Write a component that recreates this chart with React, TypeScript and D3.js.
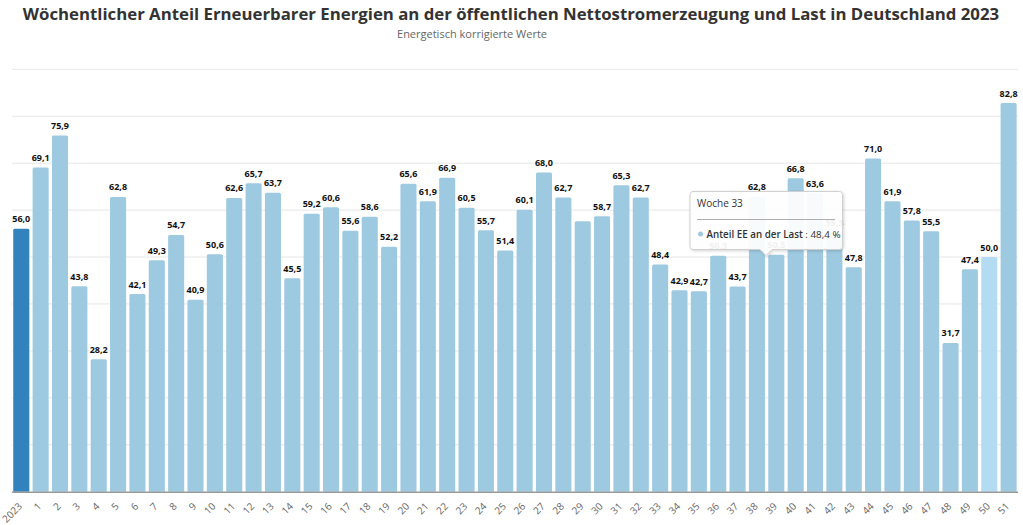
import React from "react";
import * as d3 from "d3";

const categories: string[] = [
  "2023", "1", "2", "3", "4", "5", "6", "7", "8", "9", "10", "11", "12", "13", "14", "15", "16", "17",
  "18", "19", "20", "21", "22", "23", "24", "25", "26", "27", "28", "29", "30", "31", "32", "33", "34",
  "35", "36", "37", "38", "39", "40", "41", "42", "43", "44", "45", "46", "47", "48", "49", "50", "51",
];

const shareEE: number[] = [
  56.0, 69.1, 75.9, 43.8, 28.2, 62.8, 42.1, 49.3, 54.7, 40.9, 50.6, 62.6, 65.7, 63.7, 45.5, 59.2, 60.6, 55.6,
  58.6, 52.2, 65.6, 61.9, 66.9, 60.5, 55.7, 51.4, 60.1, 68.0, 62.7, 57.6, 58.7, 65.3, 62.7, 48.4, 42.9,
  42.7, 50.3, 43.7, 62.8, 50.5, 66.8, 63.6, 55.3, 47.8, 71.0, 61.9, 57.8, 55.5, 31.7, 47.4, 50.0, 82.8,
];

const hiddenLabels: string[] = ["29"];
const highlighted: string = "50";
const yTicks: number[] = [0, 10, 20, 30, 40, 50, 60, 70, 80, 90];

const title =
  "Wöchentlicher Anteil Erneuerbarer Energien an der öffentlichen Nettostromerzeugung und Last in Deutschland 2023";
const subtitle = "Energetisch korrigierte Werte";
const seriesName = "Anteil EE an der Last";
const tooltipWeek = "33";

const W = 1023;
const H = 525;
const FONT = "'Open Sans', 'DejaVu Sans', sans-serif";
const fmt = (v: number) => d3.format(".1f")(v).replace(".", ",");

export default function App() {
  const x = d3
    .scaleBand<string>()
    .domain(categories)
    .range([11.6, 1018.3])
    .paddingInner(0.17)
    .paddingOuter(0.085);
  const y = d3.scaleLinear().domain([0, 90]).range([491.7, 69.3]);
  const bw = x.bandwidth();

  const colorFor = (c: string, i: number) =>
    i === 0 ? "#3182bd" : c === highlighted ? "#b3dbf1" : "#9ecae1";

  const ti = categories.indexOf(tooltipWeek);
  const tv = shareEE[ti];
  const tbx = 690, tby = 191.5, tbw = 152.5, tbh = 58;
  const px = 766, py = tby + tbh + 6;

  return (
    <svg
      width={W}
      height={H}
      style={{ position: "absolute", left: 0, top: 0, background: "#fff" }}
      fontFamily={FONT}
    >
      <defs>
        <filter id="shadow" x="-10%" y="-10%" width="130%" height="140%">
          <feDropShadow dx="1" dy="1" stdDeviation="1.5" floodColor="#000" floodOpacity="0.18" />
        </filter>
      </defs>
      <text x={511} y={19.5} textAnchor="middle" fontSize={16.8} fontWeight={700} fill="#333">
        {title}
      </text>
      <text x={472} y={38} textAnchor="middle" fontSize={11} fill="#666">
        {subtitle}
      </text>

      {yTicks.filter((t) => t > 0).map((t) => (
        <line key={t} x1={12} x2={1018} y1={y(t)} y2={y(t)} stroke="#e6e6e6" strokeWidth={1} />
      ))}

      {categories.map((c, i) => {
        const x0 = x(c)!;
        const top = y(shareEE[i]);
        const h = y(0) - top;
        const r = 1.5;
        const path = `M${x0},${y(0)} V${top + r} Q${x0},${top} ${x0 + r},${top} H${x0 + bw - r} Q${x0 + bw},${top} ${x0 + bw},${top + r} V${y(0)} Z`;
        return <path key={c} d={h > 0 ? path : ""} fill={colorFor(c, i)} />;
      })}

      <line x1={12} x2={1018} y1={y(0) + 0.5} y2={y(0) + 0.5} stroke="#999" strokeWidth={1.6} />

      {categories.map((c, i) =>
        hiddenLabels.includes(c) ? null : (
          <text
            key={"l" + c}
            x={x(c)! + bw / 2}
            y={y(shareEE[i]) - 6.5}
            textAnchor="middle"
            fontSize={9}
            fontWeight={700}
            fill="#111"
            stroke="#fff"
            strokeWidth={2}
            strokeLinejoin="round"
            style={{ paintOrder: "stroke" }}
          >
            {fmt(shareEE[i])}
          </text>
        )
      )}

      {categories.map((c) => {
        const cx = x(c)! + bw / 2;
        return (
          <text
            key={"t" + c}
            transform={`translate(${cx + 1.5},${507}) rotate(-45)`}
            textAnchor="end"
            fontSize={10}
            fill="#666"
          >
            {c}
          </text>
        );
      })}

      <g filter="url(#shadow)">
        <path
          d={`M${tbx + 3},${tby} H${tbx + tbw - 3} Q${tbx + tbw},${tby} ${tbx + tbw},${tby + 3} V${tby + tbh - 3} Q${tbx + tbw},${tby + tbh} ${tbx + tbw - 3},${tby + tbh} H${px + 6} L${px},${py} L${px - 6},${tby + tbh} H${tbx + 3} Q${tbx},${tby + tbh} ${tbx},${tby + tbh - 3} V${tby + 3} Q${tbx},${tby} ${tbx + 3},${tby} Z`}
          fill="rgba(255,255,255,0.93)"
          stroke="#d0d0d0"
          strokeWidth={1}
        />
      </g>
      <text x={697} y={207} fontSize={10} fill="#333">
        {"Woche " + tooltipWeek}
      </text>
      <line x1={697} x2={835} y1={219.5} y2={219.5} stroke="#999" strokeWidth={0.8} />
      <circle cx={700.5} cy={234} r={2.5} fill="#9ecae1" />
      <text x={706.5} y={237.5} fontSize={9.8} fill="#333">
        <tspan fontWeight={600}>{seriesName}</tspan>
        <tspan>{" : " + fmt(tv) + " %"}</tspan>
      </text>
    </svg>
  );
}
